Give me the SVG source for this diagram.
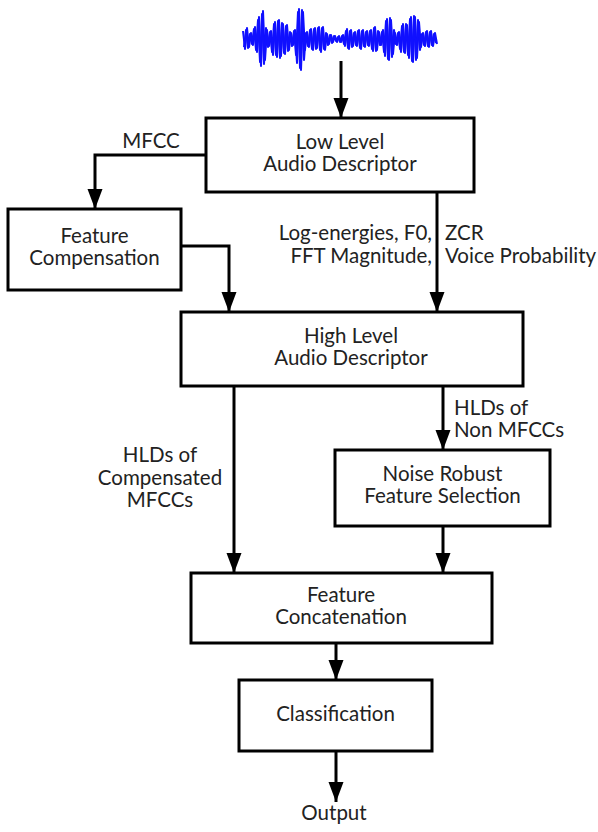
<svg xmlns="http://www.w3.org/2000/svg" width="598" height="832" viewBox="0 0 598 832">
<style>
.box{fill:#fff;stroke:#000;stroke-width:3}
.t{font-family:Lato,"Liberation Sans",sans-serif;font-size:20.5px;fill:#222}
.c{text-anchor:middle}
.e{text-anchor:end}
.w{fill:none;stroke:#1010ff;stroke-width:2;stroke-linejoin:round}
.ln{fill:none;stroke:#000;stroke-width:3}
</style>
<defs>
<marker id="ah" markerUnits="userSpaceOnUse" markerWidth="22" markerHeight="16" refX="20" refY="7.5" orient="auto">
<path d="M0,0 L20,7.5 L0,15 z" fill="#000"/>
</marker>
</defs>
<rect width="598" height="832" fill="#fff"/>
<g id="waveform">
<polyline class="w" points="243,31 245,49 247,28 249,47 251,33 253,45 255,27 257,52 259,17 261,66 263,11 265,60 267,30 269,46 271,31 273,55 275,22 277,57 279,20 281,56 283,24 285,54 287,25 289,50 291,33 293,45 295,30 297,63 299,9 301,70 303,12 305,50 307,32 309,47 311,29 313,50 315,28 317,48 319,27 321,52 323,27 325,50 327,34 329,44 331,35 333,42 335,36 337,42 339,36 341,42 343,35 345,46 347,29 349,49 351,30 353,46 355,32 357,46 359,30 361,49 363,30 365,47 367,31 369,46 371,30 373,51 375,27 377,50 379,32 381,45 383,30 385,56 387,19 389,60 391,20 393,54 395,33 397,45 399,32 401,52 403,24 405,53 407,25 409,58 411,17 413,62 415,17 417,58 419,22 421,47 423,33 425,46 427,31 429,47 431,31 433,46 435,33 437,44"/>
<polyline class="w" points="244,47 246,30 248,48 250,34 252,44 254,29 256,50 258,20 260,62 262,14 264,64 266,28 268,47 270,32 272,52 274,24 276,55 278,21 280,58 282,23 284,53 286,26 288,51 290,32 292,46 294,31 296,55 298,12 300,68 302,10 304,60 306,33 308,46 310,30 312,49 314,29 316,49 318,28 320,50 322,28 324,49 326,33 328,45 330,35 332,43 334,36 336,41 338,37 340,42 342,36 344,44 346,31 348,48 350,31 352,47 354,33 356,45 358,31 360,48 362,31 364,46 366,32 368,45 370,31 372,49 374,28 376,51 378,31 380,45 382,32 384,52 386,21 388,59 390,18 392,57 394,30 396,44 398,33 400,49 402,26 404,52 406,24 408,55 410,19 412,61 414,16 416,60 418,20 420,50 422,34 424,45 426,32 428,46 430,32 432,45 434,34 436,43"/>
</g>
<g id="connectors">
<line class="ln" x1="341" y1="61" x2="341" y2="118" marker-end="url(#ah)"/>
<polyline class="ln" points="206,155 95,155 95,209" marker-end="url(#ah)"/>
<polyline class="ln" points="181,246 229,246 229,312" marker-end="url(#ah)"/>
<line class="ln" x1="437" y1="192" x2="437" y2="312" marker-end="url(#ah)"/>
<line class="ln" x1="234" y1="386" x2="234" y2="573" marker-end="url(#ah)"/>
<line class="ln" x1="443" y1="386" x2="443" y2="450" marker-end="url(#ah)"/>
<line class="ln" x1="443" y1="526" x2="443" y2="573" marker-end="url(#ah)"/>
<line class="ln" x1="336" y1="643" x2="336" y2="680" marker-end="url(#ah)"/>
<line class="ln" x1="336" y1="751" x2="336" y2="802" marker-end="url(#ah)"/>
<text class="t c" x="151" y="148">MFCC</text>
<text class="t e" x="432" y="240">Log-energies, F0,</text>
<text class="t e" x="432" y="263">FFT Magnitude,</text>
<text class="t" x="445" y="240">ZCR</text>
<text class="t" x="445" y="263">Voice Probability</text>
<text class="t c" x="160" y="462">HLDs of</text>
<text class="t c" x="160" y="485">Compensated</text>
<text class="t c" x="160" y="507">MFCCs</text>
<text class="t" x="454" y="415">HLDs of</text>
<text class="t" x="454" y="437">Non MFCCs</text>
<text class="t c" x="334" y="820">Output</text>
</g>
<g id="low-level">
<rect class="box" x="206" y="118" width="268" height="74"/>
<text class="t c" x="340" y="149">Low Level</text>
<text class="t c" x="340" y="171">Audio Descriptor</text>
</g>
<g id="feature-compensation">
<rect class="box" x="8" y="209" width="173" height="81"/>
<text class="t c" x="94.5" y="243">Feature</text>
<text class="t c" x="94.5" y="265">Compensation</text>
</g>
<g id="high-level">
<rect class="box" x="181" y="312" width="342" height="74"/>
<text class="t c" x="351" y="343">High Level</text>
<text class="t c" x="351" y="365">Audio Descriptor</text>
</g>
<g id="noise-robust">
<rect class="box" x="335" y="450" width="215" height="76"/>
<text class="t c" x="442.5" y="481">Noise Robust</text>
<text class="t c" x="442.5" y="503">Feature Selection</text>
</g>
<g id="feature-concatenation">
<rect class="box" x="191" y="573" width="301" height="70"/>
<text class="t c" x="341" y="602">Feature</text>
<text class="t c" x="341" y="624">Concatenation</text>
</g>
<g id="classification">
<rect class="box" x="239" y="680" width="193" height="71"/>
<text class="t c" x="335.5" y="721">Classification</text>
</g>
</svg>
